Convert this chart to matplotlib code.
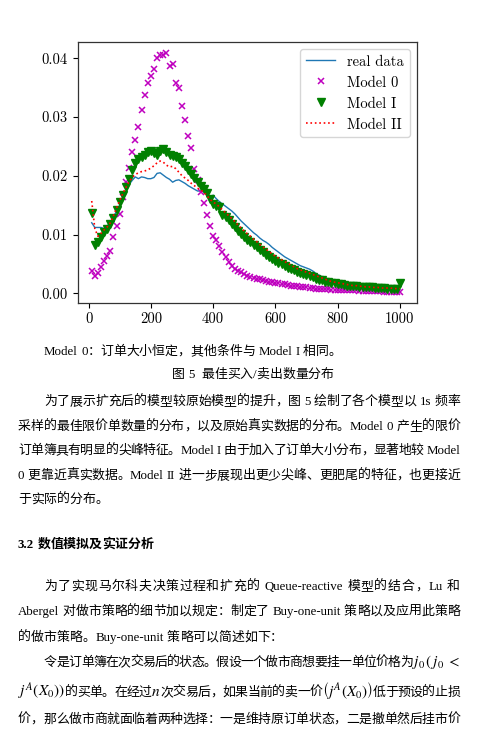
import re
import matplotlib
matplotlib.use('Agg')
import matplotlib.pyplot as plt

# order size bins (x axis)
size_bins = [
    10, 20, 30, 40, 50, 60, 70, 80, 90, 100,
    110, 120, 130, 140, 150, 160, 170, 180, 190, 200,
    210, 220, 230, 240, 250, 260, 270, 280, 290, 300,
    310, 320, 330, 340, 350, 360, 370, 380, 390, 400,
    410, 420, 430, 440, 450, 460, 470, 480, 490, 500,
    510, 520, 530, 540, 550, 560, 570, 580, 590, 600,
    610, 620, 630, 640, 650, 660, 670, 680, 690, 700,
    710, 720, 730, 740, 750, 760, 770, 780, 790, 800,
    810, 820, 830, 840, 850, 860, 870, 880, 890, 900,
    910, 920, 930, 940, 950, 960, 970, 980, 990, 1000,
]

real_data = [
    0.0120, 0.0112, 0.0112, 0.0112, 0.0110, 0.0115, 0.0120, 0.0130, 0.0140, 0.0150,
    0.0160, 0.0172, 0.0185, 0.0192, 0.0198, 0.0195, 0.0198, 0.0197, 0.0195, 0.0195,
    0.0197, 0.0204, 0.0205, 0.0201, 0.0197, 0.0194, 0.0189, 0.0192, 0.0193, 0.0190,
    0.0187, 0.0183, 0.0180, 0.0177, 0.0174, 0.0174, 0.0173, 0.0170, 0.0162, 0.0167,
    0.0161, 0.0156, 0.0152, 0.0148, 0.0144, 0.0140, 0.0135, 0.0129, 0.0123, 0.0118,
    0.0113, 0.0108, 0.0103, 0.0099, 0.0094, 0.0090, 0.0087, 0.0083, 0.0078, 0.0074,
    0.0070, 0.0066, 0.0062, 0.0059, 0.0056, 0.0053, 0.0050, 0.0047, 0.0045, 0.0043,
    0.0041, 0.0038, 0.0034, 0.0031, 0.0028, 0.0025, 0.0023, 0.0021, 0.0019, 0.0017,
    0.0016, 0.0015, 0.0014, 0.0013, 0.0012, 0.0012, 0.0011, 0.0011, 0.0010, 0.0010,
    0.0009, 0.0009, 0.0008, 0.0008, 0.0008, 0.0007, 0.0007, 0.0007, 0.0006, 0.0006,
]

model_0 = [
    0.0038, 0.0030, 0.0035, 0.0045, 0.0055, 0.0063, 0.0072, 0.0095, 0.0114, 0.0135,
    0.0163, 0.0190, 0.0213, 0.0240, 0.0260, 0.0283, 0.0312, 0.0337, 0.0358, 0.0370,
    0.0381, 0.0401, 0.0406, 0.0405, 0.0408, 0.0387, 0.0390, 0.0358, 0.0350, 0.0318,
    0.0295, 0.0267, 0.0247, 0.0211, 0.0193, 0.0172, 0.0153, 0.0133, 0.0114, 0.0098,
    0.0091, 0.0080, 0.0071, 0.0062, 0.0054, 0.0047, 0.0042, 0.0038, 0.0036, 0.0033,
    0.0030, 0.0028, 0.0026, 0.0025, 0.0024, 0.0023, 0.0021, 0.0020, 0.0019, 0.0018,
    0.0017, 0.0016, 0.0015, 0.0014, 0.0013, 0.0012, 0.0012, 0.0011, 0.0010, 0.0010,
    0.0009, 0.0009, 0.0008, 0.0008, 0.0007, 0.0007, 0.0007, 0.0006, 0.0006, 0.0006,
    0.0005, 0.0005, 0.0005, 0.0005, 0.0005, 0.0005, 0.0004, 0.0004, 0.0004, 0.0004,
    0.0004, 0.0004, 0.0004, 0.0004, 0.0003, 0.0003, 0.0003, 0.0003, 0.0003, 0.0003,
]

model_1 = [
    0.0136, 0.0082, 0.0088, 0.0096, 0.0104, 0.0110, 0.0118, 0.0128, 0.0142, 0.0155,
    0.0168, 0.0180, 0.0195, 0.0210, 0.0222, 0.0228, 0.0232, 0.0236, 0.0240, 0.0242,
    0.0238, 0.0236, 0.0242, 0.0246, 0.0241, 0.0236, 0.0234, 0.0232, 0.0228, 0.0222,
    0.0216, 0.0210, 0.0203, 0.0196, 0.0189, 0.0182, 0.0177, 0.0170, 0.0160, 0.0152,
    0.0149, 0.0146, 0.0133, 0.0129, 0.0124, 0.0118, 0.0112, 0.0106, 0.0101, 0.0096,
    0.0091, 0.0087, 0.0082, 0.0078, 0.0074, 0.0070, 0.0066, 0.0062, 0.0058, 0.0055,
    0.0052, 0.0049, 0.0046, 0.0043, 0.0041, 0.0039, 0.0037, 0.0035, 0.0033, 0.0031,
    0.0029, 0.0027, 0.0025, 0.0023, 0.0022, 0.0020, 0.0019, 0.0018, 0.0017, 0.0016,
    0.0015, 0.0014, 0.0013, 0.0013, 0.0012, 0.0012, 0.0011, 0.0011, 0.0010, 0.0010,
    0.0010, 0.0009, 0.0009, 0.0009, 0.0009, 0.0008, 0.0008, 0.0008, 0.0008, 0.0018,
]

model_2 = [
    0.0157, 0.0110, 0.0097, 0.0102, 0.0108, 0.0113, 0.0120, 0.0132, 0.0145, 0.0158,
    0.0170, 0.0180, 0.0190, 0.0197, 0.0202, 0.0205, 0.0207, 0.0208, 0.0210, 0.0213,
    0.0217, 0.0222, 0.0225, 0.0223, 0.0218, 0.0215, 0.0216, 0.0212, 0.0206, 0.0200,
    0.0196, 0.0192, 0.0187, 0.0183, 0.0179, 0.0176, 0.0172, 0.0166, 0.0160, 0.0155,
    0.0152, 0.0147, 0.0142, 0.0137, 0.0132, 0.0127, 0.0122, 0.0116, 0.0111, 0.0106,
    0.0101, 0.0097, 0.0092, 0.0088, 0.0083, 0.0079, 0.0075, 0.0071, 0.0067, 0.0063,
    0.0060, 0.0057, 0.0054, 0.0051, 0.0048, 0.0045, 0.0042, 0.0040, 0.0038, 0.0036,
    0.0034, 0.0032, 0.0030, 0.0028, 0.0026, 0.0024, 0.0022, 0.0020, 0.0019, 0.0018,
    0.0017, 0.0016, 0.0015, 0.0014, 0.0013, 0.0013, 0.0012, 0.0012, 0.0011, 0.0011,
    0.0010, 0.0010, 0.0010, 0.0009, 0.0009, 0.0009, 0.0009, 0.0008, 0.0008, 0.0008,
]

x_ticks = [0, 200, 400, 600, 800, 1000]
x_tick_labels = ['0', '200', '400', '600', '800', '1000']
y_ticks = [0.00, 0.01, 0.02, 0.03, 0.04]
y_tick_labels = ['0.00', '0.01', '0.02', '0.03', '0.04']

series_names = ['real data', 'Model 0', 'Model I', 'Model II']

# page text below the chart
note_line = 'Model 0：订单大小恒定，其他条件与 Model I 相同。'
caption = '图 5  最佳买入/卖出数量分布'
para_1 = [
    '为了展示扩充后的模型较原始模型的提升，图 5 绘制了各个模型以 1s 频率',
    '采样的最佳限价单数量的分布，以及原始真实数据的分布。Model 0 产生的限价',
    '订单簿具有明显的尖峰特征。Model I 由于加入了订单大小分布，显著地较 Model',
    '0 更靠近真实数据。Model II 进一步展现出更少尖峰、更肥尾的特征，也更接近',
    '于实际的分布。',
]
heading = '3.2 数值模拟及实证分析'
para_2 = [
    '为了实现马尔科夫决策过程和扩充的 Queue-reactive 模型的结合，Lu 和',
    'Abergel 对做市策略的细节加以规定：制定了 Buy-one-unit 策略以及应用此策略',
    '的做市策略。Buy-one-unit 策略可以简述如下：',
    '令是订单簿在次交易后的状态。假设一个做市商想要挂一单位价格为$j_0$$($$j_0$ $<$',
    r'$j^A(X_0))$的买单。在经过$n$次交易后，如果当前的卖一价$\left(j^A(X_0)\right)$低于预设的止损',
    '价，那么做市商就面临着两种选择：一是维持原订单状态，二是撤单然后挂市价',
]

W, H = 482, 739
CHART_FONT = 'cmr10'
BODY_FONT = ['Liberation Serif', 'Noto Sans CJK SC']

fig = plt.figure(figsize=(W / 100, H / 100), dpi=100)
ax = fig.add_axes([77.7 / W, 1 - 303 / H, (417 - 77.7) / W, (303 - 41.7) / H])

ax.plot(size_bins, real_data, color='#1f77b4', lw=1.0, label=series_names[0])
ax.plot(size_bins, model_0, 'x', color='m', ms=4, mew=1.1, label=series_names[1])
ax.plot(size_bins, model_1, 'v', color='g', ms=6, label=series_names[2])
ax.plot(size_bins, model_2, ':', color='r', lw=1.2, label=series_names[3])

ax.set_xlim(-35, 1055)
ax.set_ylim(-0.00165, 0.0428)
ax.set_xticks(x_ticks)
ax.set_xticklabels(x_tick_labels, family=CHART_FONT, fontsize=10.5)
ax.set_yticks(y_ticks)
ax.set_yticklabels(y_tick_labels, family=CHART_FONT, fontsize=10.5)
for sp in ax.spines.values():
    sp.set_color('#333333')
    sp.set_linewidth(0.9)
ax.legend(loc='upper right', prop={'family': CHART_FONT, 'size': 10.5},
          edgecolor='0.8', fancybox=True)

renderer = fig.canvas.get_renderer()
SPACE = 3.3


def text_line(s, x0, y, x1=None, size=9.3, weight='normal'):
    # place token by token so a line can be justified between x0 and x1
    toks = re.findall(r'\$[^$]+\$| |[A-Za-z0-9.\-/]+|.', s)
    arts, widths = [], []
    for t in toks:
        if t == ' ':
            arts.append(None)
            widths.append(SPACE)
            continue
        fs = 11 if t.startswith('$') else size
        tx = fig.text(0, 0, t, fontsize=fs, family=BODY_FONT, weight=weight,
                      math_fontfamily='stix', va='baseline', ha='left')
        arts.append(tx)
        widths.append(tx.get_window_extent(renderer).width)
    gap = 0
    if x1 is not None and len(toks) > 1:
        gap = (x1 - x0 - sum(widths)) / (len(toks) - 1)
    x = x0
    for a, w in zip(arts, widths):
        if a is not None:
            a.set_position((x / W, 1 - y / H))
        x += w + gap


text_line(note_line, 44, 355)
text_line(caption, 172, 378)

p1_y = [405, 430, 454, 479, 503]
for i, line in enumerate(para_1):
    x0 = 44 if i == 0 else 18
    x1 = 460 if i < len(para_1) - 1 else None
    text_line(line, x0, p1_y[i], x1)

text_line(heading, 18, 548, weight='bold')

p2_y = [590, 615, 641, 666, 696, 723]
for i, line in enumerate(para_2):
    x0 = 44 if i in (0, 3) else 18
    x1 = None if i in (2,) else 460
    text_line(line, x0, p2_y[i], x1)

fig.savefig('out.png', dpi=100)
